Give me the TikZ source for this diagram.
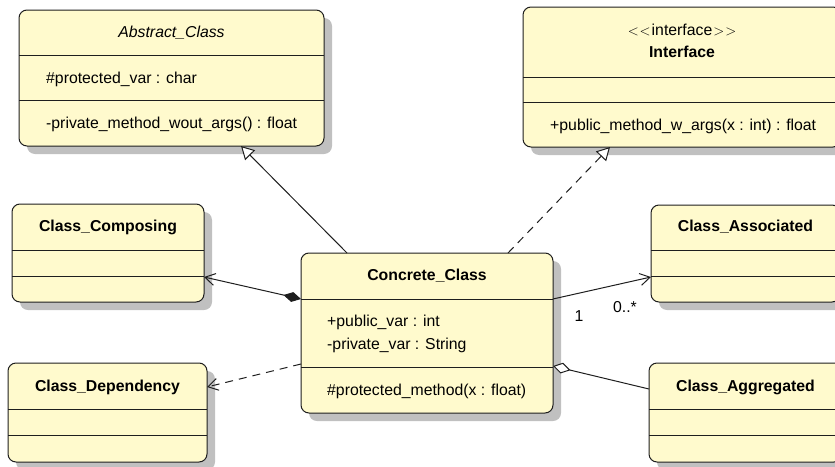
\documentclass[tikz,border=0pt]{standalone}
\usepackage{fontspec}
\setmainfont{Liberation Sans}
\usetikzlibrary{arrows.meta,shadows}
\definecolor{classfill}{RGB}{255,250,205}
\definecolor{classline}{RGB}{30,30,30}
\definecolor{shadowgray}{RGB}{192,192,192}

\begin{document}
\begin{tikzpicture}[x=1pt,y=-1pt,
  classbox/.style={draw=classline, line width=1pt, fill=classfill,
    rounded corners=8pt, inner sep=0pt, outer sep=0pt,
    drop shadow={shadow xshift=8pt, shadow yshift=-8pt, fill=shadowgray, opacity=1}},
  divider/.style={draw=classline, line width=1pt},
  txt/.style={inner sep=0pt, anchor=base, font=\fontsize{15.8}{19}\selectfont},
  ltxt/.style={txt, anchor=base west},
  link/.style={draw=classline, line width=1pt},
  dashlink/.style={link, dash pattern=on 8pt off 6pt},
  generalization/.style={link, -{Triangle[open, fill=white, length=13pt, width=14pt]}},
  realization/.style={dashlink, -{Triangle[open, fill=white, length=13pt, width=14pt]}},
  navigable/.style={-{Straight Barb[length=10pt, width=12pt]}},
  composition/.style={link, {Diamond[length=18pt, width=10pt]}-{Straight Barb[length=10pt, width=12pt]}},
  aggregation/.style={link, {Diamond[open, fill=white, length=18pt, width=11pt]}-},
]
\useasboundingbox (0,0) rectangle (835,466);
\clip (0,0) rectangle (835,466);

% ---- class boxes ----
\node[classbox, minimum width=305pt, minimum height=136pt] (abstract)   at (171.5,78)  {};
\node[classbox, minimum width=318pt, minimum height=140pt] (interface)  at (682,77)    {};
\node[classbox, minimum width=252pt, minimum height=160pt] (concrete)   at (427,333)   {};
\node[classbox, minimum width=192pt, minimum height=98pt]  (composing)  at (108,253)   {};
\node[classbox, minimum width=199pt, minimum height=99pt]  (dependency) at (107.5,412.5) {};
\node[classbox, minimum width=189pt, minimum height=97pt]  (associated) at (745.5,253.5) {};
\node[classbox, minimum width=193pt, minimum height=99pt]  (aggregated) at (745.5,412.5) {};

% ---- compartment separators ----
\foreach \cls/\ya/\yb in {abstract/55/100, interface/77/102, concrete/299/367,
    composing/250/276, dependency/409/435, associated/250/276, aggregated/409/435} {
  \draw[divider] (\cls.west |- 0,\ya) -- (\cls.east |- 0,\ya);
  \draw[divider] (\cls.west |- 0,\yb) -- (\cls.east |- 0,\yb);
}

% ---- texts ----
\node[txt]  (abstract-name)  at (171.5,37) {\itshape Abstract\_Class};
\node[ltxt] (abstract-attr)  at (46,83)    {\#protected\_var : char};
\node[ltxt] (abstract-op)    at (46,128.5) {-private\_method\_wout\_args() : float};

\node[txt]  (interface-st)   at (682,35)
  {{$<$}\kern1pt{$<$}\kern1pt interface\kern1pt{$>$}\kern1pt{$>$}};
\node[txt]  (interface-name) at (682,57.5) {\bfseries Interface};
\node[ltxt] (interface-op)   at (550,130)  {+public\_method\_w\_args(x : int) : float};

\node[txt]  (concrete-name)  at (427,280)  {\bfseries Concrete\_Class};
\node[ltxt] (concrete-a1)    at (327,326)  {+public\_var : int};
\node[ltxt] (concrete-a2)    at (327,349.5){-private\_var : String};
\node[ltxt] (concrete-op)    at (327,395)  {\#protected\_method(x : float)};

\node[txt]  (composing-name)  at (108,231.5)   {\bfseries Class\_Composing};
\node[txt]  (dependency-name) at (107.5,391)   {\bfseries Class\_Dependency};
\node[txt]  (associated-name) at (745.5,231.5) {\bfseries Class\_Associated};
\node[txt]  (aggregated-name) at (745.5,391)   {\bfseries Class\_Aggregated};

% ---- relationship end points ----
\coordinate (gen-s)  at ([xshift=46pt]concrete.north west);
\coordinate (gen-t)  at ([xshift=222pt]abstract.south west);
\coordinate (real-s) at ([xshift=207pt]concrete.north west);
\coordinate (real-t) at ([xshift=87pt]interface.south west);

% ---- relationships ----
\draw[generalization] (gen-s) -- (gen-t);
\draw[realization] (real-s) -- (real-t);
\draw[composition] (concrete.west |- 0,299) -- (composing.east |- 0,277);
\draw[dashlink, navigable] (concrete.west |- 0,364) -- (dependency.east |- 0,387);
\draw[link, navigable] (concrete.east |- 0,299) -- (associated.west |- 0,277);
\draw[aggregation] (concrete.east |- 0,366) -- (aggregated.west |- 0,389);

% ---- multiplicities ----
\node[txt] (mult-one)  at (579,321) {1};
\node[txt] (mult-many) at (625,312) {0..*};
\end{tikzpicture}
\end{document}
